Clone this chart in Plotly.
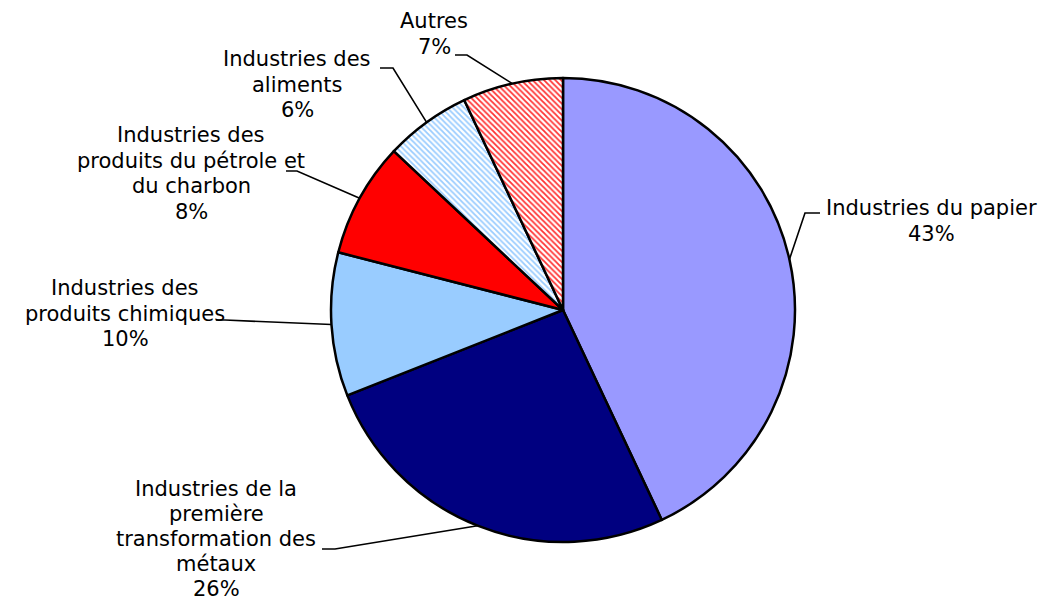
import math
import plotly.graph_objects as go

labels = ["Industries du papier", "Industries de la première transformation des métaux",
          "Industries des produits chimiques", "Industries des produits du pétrole et du charbon",
          "Industries des aliments", "Autres"]
values = [43, 26, 10, 8, 6, 7]
label_lines = [
    ["Industries du papier", "43%"],
    ["Industries de la", "première", "transformation des", "métaux", "26%"],
    ["Industries des", "produits chimiques", "10%"],
    ["Industries des", "produits du pétrole et", "du charbon", "8%"],
    ["Industries des", "aliments", "6%"],
    ["Autres", "7%"],
]
colors = ["#9999FF", "#000080", "#99CCFF", "#FF0000", "#FFFFFF", "#FFFFFF"]
pattern_shapes = ["", "", "", "", "\\", "\\"]
pattern_fg = ["#000000", "#000000", "#000000", "#000000", "#99CCFF", "#FF3333"]

W, H = 1041, 604
CX, CY, R = 563, 310, 232
LINE_H = [25.5, 25, 25.5, 25.5, 25.5, 25.5]

# first-line centre of each label (pixels) and leader elbow points (pixels)
label_pos = [(931, 208), (216, 489), (125, 288), (191, 135), (297, 59), (434, 21)]
elbows = [[(805, 213), (820, 213)],
          [(335, 549), (322, 549)],
          [(225, 320), (216, 320)],
          [(297, 171), (286, 171)],
          [(393, 68), (380, 68)],
          [(467, 55), (455, 55)]]


def px(x, y):
    return x / W, 1 - y / H


fig = go.Figure()
fig.add_trace(go.Pie(
    labels=labels, values=values, sort=False, direction="clockwise", rotation=0,
    textinfo="none", hoverinfo="label+percent", showlegend=False,
    marker=dict(colors=colors, line=dict(color="black", width=2.5),
                pattern=dict(shape=pattern_shapes, fgcolor=pattern_fg, bgcolor=colors,
                             size=4, solidity=0.45, fillmode="replace")),
    domain=dict(x=[(CX - R) / W, (CX + R) / W], y=[1 - (CY + R) / H, 1 - (CY - R) / H]),
))

total = sum(values)
cum = 0
shapes = []
annotations = []
for i, v in enumerate(values):
    mid = (cum + v / 2) / total * 2 * math.pi
    cum += v
    ex = CX + R * math.sin(mid)
    ey = CY - R * math.cos(mid)
    pts = [(ex, ey)] + elbows[i]
    path = "M " + " L ".join(f"{px(x, y)[0]:.5f},{px(x, y)[1]:.5f}" for x, y in pts)
    shapes.append(dict(type="path", path=path, xref="paper", yref="paper",
                       line=dict(color="black", width=1.6)))
    bx, by = label_pos[i]
    for j, line in enumerate(label_lines[i]):
        lx, ly = px(bx, by + j * LINE_H[i])
        annotations.append(dict(x=lx, y=ly, xref="paper", yref="paper", text=line,
                                showarrow=False, xanchor="center", yanchor="middle",
                                align="center",
                                font=dict(family="DejaVu Sans", size=21, color="black")))

fig.update_layout(width=W, height=H, margin=dict(l=0, r=0, t=0, b=0),
                  paper_bgcolor="white", plot_bgcolor="white",
                  shapes=shapes, annotations=annotations)
fig.write_html("out.html")
